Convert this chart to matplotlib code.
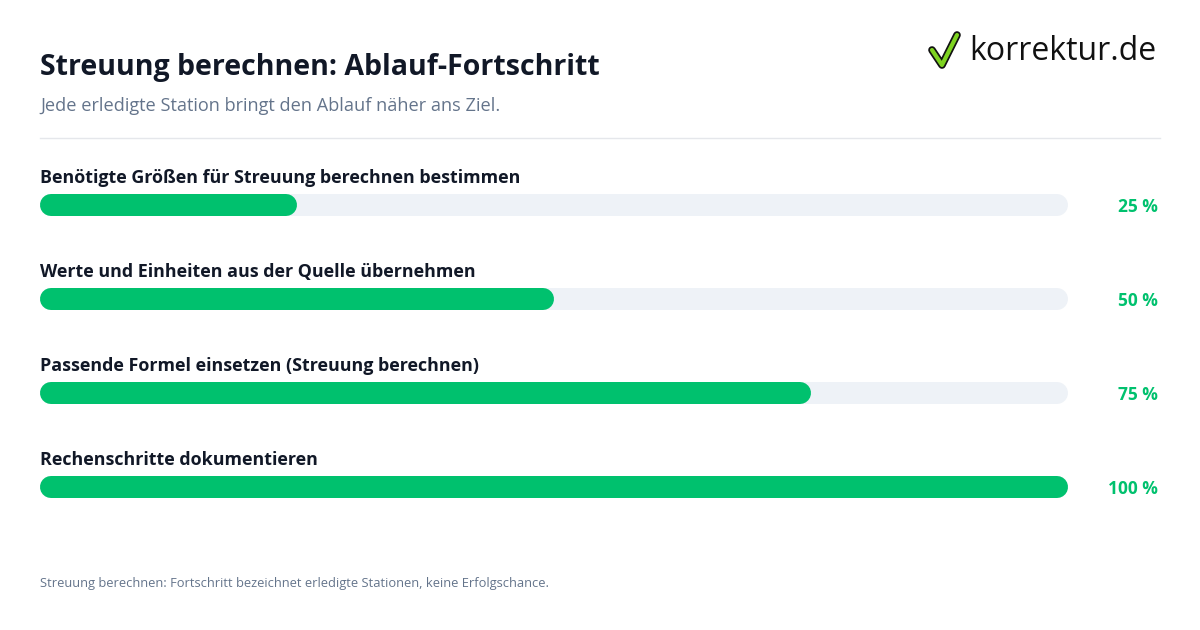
import matplotlib
matplotlib.use("Agg")
import matplotlib.pyplot as plt

plt.rcParams['font.family'] = ['Open Sans', 'DejaVu Sans']

title = "Streuung berechnen: Ablauf-Fortschritt"
subtitle = "Jede erledigte Station bringt den Ablauf näher ans Ziel."
footer = "Streuung berechnen: Fortschritt bezeichnet erledigte Stationen, keine Erfolgschance."
steps = [
    "Benötigte Größen für Streuung berechnen bestimmen",
    "Werte und Einheiten aus der Quelle übernehmen",
    "Passende Formel einsetzen (Streuung berechnen)",
    "Rechenschritte dokumentieren",
]
progress = [25, 50, 75, 100]

green = "#00c16e"
track = "#eef2f7"
dark = "#111827"
grey = "#64748b"

fig = plt.figure(figsize=(12, 6.3), dpi=100)
ax = fig.add_axes([0, 0, 1, 1])
ax.set_xlim(0, 1200)
ax.set_ylim(630, 0)
ax.axis("off")

ax.text(40, 68, title, fontsize=20.5, fontweight="bold", color=dark, va="center")
ax.text(40, 106, subtitle, fontsize=13.1, color=grey, va="center")
ax.plot([40, 1160], [138, 138], color="#e5e7eb", lw=1)

x0, x1 = 40, 1068
bar_h = 22
lw = bar_h * 0.72
r = bar_h / 2
for i, (label, p) in enumerate(zip(steps, progress)):
    yb = 205 + i * 94
    ax.text(40, yb - 27, label, fontsize=12.85, fontweight="bold", color=dark, va="center")
    ax.plot([x0 + r, x1 - r], [yb, yb], color=track, lw=lw, solid_capstyle="round")
    xe = x0 + (x1 - x0) * p / 100
    ax.plot([x0 + r, xe - r], [yb, yb], color=green, lw=lw, solid_capstyle="round")
    ax.text(1158, yb + 2, f"{p} %", fontsize=12.5, fontweight="bold", color=green,
            va="center", ha="right")

ax.text(40, 583, footer, fontsize=9.25, color=grey, va="center")

# logo
ax.plot([932, 942, 957], [50, 65, 35], color="#111111", lw=5.5, solid_capstyle="round",
        solid_joinstyle="round")
ax.plot([932, 942, 957], [50, 65, 35], color="#7ed321", lw=3, solid_capstyle="round",
        solid_joinstyle="round")
ax.text(969, 52, "korrektur.de", fontsize=23, color="#111111", va="center")

fig.savefig("out.png", dpi=100)
